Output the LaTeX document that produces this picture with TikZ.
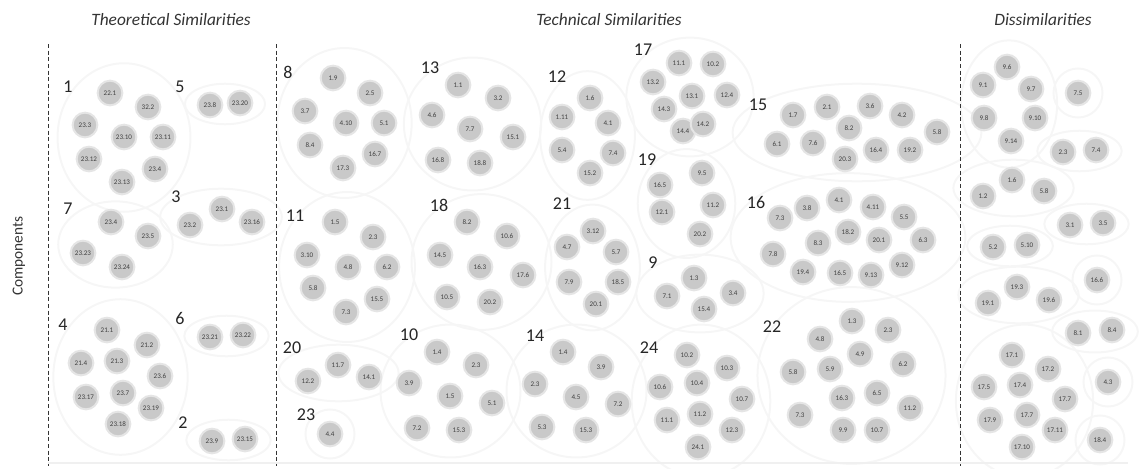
\documentclass[tikz,border=0pt]{standalone}
\usepackage{fontspec}
\setmainfont{Carlito}
\usetikzlibrary{shapes.geometric,fit,backgrounds}

\begin{document}
\begin{tikzpicture}[
    x=0.75pt, y=-0.75pt,
    comp/.style={circle, fill=black!21, draw=black!10, line width=1.5pt, minimum size=18.5pt, inner sep=0pt, font=\fontsize{5.3}{6}\selectfont, text=black!75},
    num/.style={font=\fontsize{13.5}{15}\selectfont, text=black!85},
    head/.style={font=\fontsize{13}{15}\selectfont\itshape, text=black!80},
    halo/.style={ellipse, draw=black!3.5, line width=1.5pt, inner sep=-4pt},
    solo/.style={halo, inner sep=3pt},
    sep/.style={dash pattern=on 3pt off 2pt, line width=0.6pt, black!80}
]
\useasboundingbox (0,0) rectangle (1139,468);

% headers and axis label
\node[head] (hT) at (171,20) {Theoretical Similarities};
\node[head] (hK) at (609,20) {Technical Similarities};
\node[head] (hD) at (1043,20) {Dissimilarities};
\node[font=\fontsize{11.5}{13}\selectfont, text=black!80, rotate=90] (ax) at (19,256) {Components};

% separators
\coordinate (s1t) at (48,44);  \coordinate (s1b) at (48,466);
\coordinate (s2t) at (276,44); \coordinate (s2b) at (276,466);
\coordinate (s3t) at (960,44); \coordinate (s3b) at (960,466);
\draw[sep] (s1t) -- (s1b);
\draw[sep] (s2t) -- (s2b);
\draw[sep] (s3t) -- (s3b);
\coordinate (fl) at (48,463); \coordinate (fr) at (1128,463);
\draw[black!6, line width=1.5pt] (fl) -- (fr);

% ---- theoretical similarities ----
\node[num] (n1) at (68,87) {1};
\node[comp] (c1-1) at (110,93) {22.1};
\node[comp] (c1-2) at (148,107) {32.2};
\node[comp] (c1-3) at (85,125) {23.3};
\node[comp] (c1-4) at (124,137) {23.10};
\node[comp] (c1-5) at (163,137) {23.11};
\node[comp] (c1-6) at (89,159) {23.12};
\node[comp] (c1-7) at (155,169) {23.4};
\node[comp] (c1-8) at (122,182) {23.13};

\node[num] (n5) at (180,87) {5};
\node[comp] (c5-1) at (210,105) {23.8};
\node[comp] (c5-2) at (240,103) {23.20};

\node[num] (n3) at (176,197) {3};
\node[comp] (c3-1) at (222,209) {23.1};
\node[comp] (c3-2) at (190,225) {23.2};
\node[comp] (c3-3) at (252,222) {23.16};

\node[num] (n7) at (68,209) {7};
\node[comp] (c7-1) at (111,222) {23.4};
\node[comp] (c7-2) at (148,236) {23.5};
\node[comp] (c7-3) at (83,253) {23.23};
\node[comp] (c7-4) at (122,267) {23.24};

\node[num] (n4) at (63,325) {4};
\node[comp] (c4-1) at (107,330) {21.1};
\node[comp] (c4-2) at (147,345) {21.2};
\node[comp] (c4-3) at (81,363) {21.4};
\node[comp] (c4-4) at (117,361) {21.3};
\node[comp] (c4-5) at (160,376) {23.6};
\node[comp] (c4-6) at (86,397) {23.17};
\node[comp] (c4-7) at (123,393) {23.7};
\node[comp] (c4-8) at (151,408) {23.19};
\node[comp] (c4-9) at (118,424) {23.18};

\node[num] (n6) at (180,318) {6};
\node[comp] (c6-1) at (210,337) {23.21};
\node[comp] (c6-2) at (243,335) {23.22};

\node[num] (n2) at (183,423) {2};
\node[comp] (c2-1) at (212,441) {23.9};
\node[comp] (c2-2) at (245,439) {23.15};

% ---- technical similarities ----
\node[num] (n8) at (288,72) {8};
\node[comp] (c8-1) at (333,78) {1.9};
\node[comp] (c8-2) at (370,93) {2.5};
\node[comp] (c8-3) at (305,111) {3.7};
\node[comp] (c8-4) at (346,123) {4.10};
\node[comp] (c8-5) at (384,123) {5.1};
\node[comp] (c8-6) at (310,145) {8.4};
\node[comp] (c8-7) at (375,154) {16.7};
\node[comp] (c8-8) at (343,168) {17.3};

\node[num] (n13) at (430,68) {13};
\node[comp] (c13-1) at (458,85) {1.1};
\node[comp] (c13-2) at (498,98) {3.2};
\node[comp] (c13-3) at (432,115) {4.6};
\node[comp] (c13-4) at (470,129) {7.7};
\node[comp] (c13-5) at (513,137) {15.1};
\node[comp] (c13-6) at (438,160) {16.8};
\node[comp] (c13-7) at (480,163) {18.8};

\node[num] (n11) at (295,216) {11};
\node[comp] (c11-1) at (335,222) {1.5};
\node[comp] (c11-2) at (373,237) {2.3};
\node[comp] (c11-3) at (307,255) {3.10};
\node[comp] (c11-4) at (348,267) {4.8};
\node[comp] (c11-5) at (387,267) {6.2};
\node[comp] (c11-6) at (313,288) {5.8};
\node[comp] (c11-7) at (377,299) {15.5};
\node[comp] (c11-8) at (346,312) {7.3};

\node[num] (n18) at (439,205) {18};
\node[comp] (c18-1) at (467,222) {8.2};
\node[comp] (c18-2) at (507,236) {10.6};
\node[comp] (c18-3) at (440,255) {14.5};
\node[comp] (c18-4) at (480,267) {16.3};
\node[comp] (c18-5) at (523,275) {17.6};
\node[comp] (c18-6) at (447,297) {10.5};
\node[comp] (c18-7) at (490,302) {20.2};

\node[num] (n10) at (409,335) {10};
\node[comp] (c10-1) at (437,352) {1.4};
\node[comp] (c10-2) at (476,365) {2.3};
\node[comp] (c10-3) at (409,383) {3.9};
\node[comp] (c10-4) at (450,396) {1.5};
\node[comp] (c10-5) at (492,403) {5.1};
\node[comp] (c10-6) at (417,428) {7.2};
\node[comp] (c10-7) at (459,430) {15.3};

\node[num] (n20) at (292,348) {20};
\node[comp] (c20-1) at (338,365) {11.7};
\node[comp] (c20-2) at (308,381) {12.2};
\node[comp] (c20-3) at (369,377) {14.1};

\node[num] (n23) at (306,415) {23};
\node[comp] (c23-1) at (330,434) {4.4};

\node[num] (n17) at (643,50) {17};
\node[comp] (c17-1) at (679,63) {11.1};
\node[comp] (c17-2) at (713,64) {10.2};
\node[comp] (c17-3) at (653,82) {13.2};
\node[comp] (c17-4) at (692,96) {13.1};
\node[comp] (c17-5) at (727,95) {12.4};
\node[comp] (c17-6) at (664,109) {14.3};
\node[comp] (c17-7) at (683,131) {14.4};
\node[comp] (c17-8) at (703,124) {14.2};

\node[num] (n12) at (557,77) {12};
\node[comp] (c12-1) at (590,98) {1.6};
\node[comp] (c12-2) at (562,117) {1.11};
\node[comp] (c12-3) at (608,123) {4.1};
\node[comp] (c12-4) at (562,150) {5.4};
\node[comp] (c12-5) at (613,153) {7.4};
\node[comp] (c12-6) at (590,173) {15.2};

\node[num] (n19) at (647,160) {19};
\node[comp] (c19-1) at (660,185) {16.5};
\node[comp] (c19-2) at (702,173) {9.5};
\node[comp] (c19-3) at (713,205) {11.2};
\node[comp] (c19-4) at (662,212) {12.1};
\node[comp] (c19-5) at (700,234) {20.2};

\node[num] (n21) at (562,204) {21};
\node[comp] (c21-1) at (593,231) {3.12};
\node[comp] (c21-2) at (567,247) {4.7};
\node[comp] (c21-3) at (616,252) {5.7};
\node[comp] (c21-4) at (569,282) {7.9};
\node[comp] (c21-5) at (618,282) {18.5};
\node[comp] (c21-6) at (596,304) {20.1};

\node[num] (n9) at (653,263) {9};
\node[comp] (c9-1) at (694,278) {1.3};
\node[comp] (c9-2) at (733,293) {3.4};
\node[comp] (c9-3) at (667,296) {7.1};
\node[comp] (c9-4) at (704,309) {15.4};

\node[num] (n14) at (535,336) {14};
\node[comp] (c14-1) at (563,352) {1.4};
\node[comp] (c14-2) at (601,367) {3.9};
\node[comp] (c14-3) at (535,384) {2.3};
\node[comp] (c14-4) at (576,397) {4.5};
\node[comp] (c14-5) at (618,404) {7.2};
\node[comp] (c14-6) at (542,427) {5.3};
\node[comp] (c14-7) at (586,430) {15.3};

\node[num] (n24) at (649,348) {24};
\node[comp] (c24-1) at (687,355) {10.2};
\node[comp] (c24-2) at (727,368) {10.3};
\node[comp] (c24-3) at (660,387) {10.6};
\node[comp] (c24-4) at (697,383) {10.4};
\node[comp] (c24-5) at (742,399) {10.7};
\node[comp] (c24-6) at (667,420) {11.1};
\node[comp] (c24-7) at (700,414) {11.2};
\node[comp] (c24-8) at (732,430) {12.3};
\node[comp] (c24-9) at (698,447) {24.1};

\node[num] (n15) at (758,105) {15};
\node[comp] (c15-1) at (793,115) {1.7};
\node[comp] (c15-2) at (827,107) {2.1};
\node[comp] (c15-3) at (870,106) {3.6};
\node[comp] (c15-4) at (902,115) {4.2};
\node[comp] (c15-5) at (849,128) {8.2};
\node[comp] (c15-6) at (777,144) {6.1};
\node[comp] (c15-7) at (813,143) {7.6};
\node[comp] (c15-8) at (876,150) {16.4};
\node[comp] (c15-9) at (910,150) {19.2};
\node[comp] (c15-10) at (845,159) {20.3};
\node[comp] (c15-11) at (937,132) {5.8};

\node[num] (n16) at (756,202) {16};
\node[comp] (c16-1) at (780,218) {7.3};
\node[comp] (c16-2) at (807,208) {3.8};
\node[comp] (c16-3) at (839,200) {4.1};
\node[comp] (c16-4) at (873,207) {4.11};
\node[comp] (c16-5) at (904,217) {5.5};
\node[comp] (c16-6) at (848,232) {18.2};
\node[comp] (c16-7) at (818,243) {8.3};
\node[comp] (c16-8) at (879,240) {20.1};
\node[comp] (c16-9) at (923,240) {6.3};
\node[comp] (c16-10) at (773,254) {7.8};
\node[comp] (c16-11) at (803,272) {19.4};
\node[comp] (c16-12) at (840,273) {16.5};
\node[comp] (c16-13) at (871,275) {9.13};
\node[comp] (c16-14) at (902,265) {9.12};

\node[num] (n22) at (772,327) {22};
\node[comp] (c22-1) at (852,321) {1.3};
\node[comp] (c22-2) at (888,330) {2.3};
\node[comp] (c22-3) at (820,339) {4.8};
\node[comp] (c22-4) at (860,354) {4.9};
\node[comp] (c22-5) at (793,372) {5.8};
\node[comp] (c22-6) at (830,369) {5.9};
\node[comp] (c22-7) at (903,364) {6.2};
\node[comp] (c22-8) at (842,398) {16.3};
\node[comp] (c22-9) at (877,393) {6.5};
\node[comp] (c22-10) at (910,408) {11.2};
\node[comp] (c22-11) at (800,415) {7.3};
\node[comp] (c22-12) at (843,430) {9.9};
\node[comp] (c22-13) at (877,430) {10.7};

% ---- dissimilarities ----
\node[comp] (d1-1) at (1007,67) {9.6};
\node[comp] (d1-2) at (983,85) {9.1};
\node[comp] (d1-3) at (1031,89) {9.7};
\node[comp] (d1-4) at (984,118) {9.8};
\node[comp] (d1-5) at (1035,118) {9.10};
\node[comp] (d1-6) at (1011,141) {9.14};

\node[comp] (d2-1) at (1078,93) {7.5};

\node[comp] (d3-1) at (1063,152) {2.3};
\node[comp] (d3-2) at (1096,150) {7.4};

\node[comp] (d4-1) at (1012,180) {1.6};
\node[comp] (d4-2) at (983,196) {1.2};
\node[comp] (d4-3) at (1044,191) {5.8};

\node[comp] (d5-1) at (1070,225) {3.1};
\node[comp] (d5-2) at (1103,223) {3.5};

\node[comp] (d6-1) at (993,247) {5.2};
\node[comp] (d6-2) at (1027,245) {5.10};

\node[comp] (d7-1) at (1097,280) {16.6};

\node[comp] (d8-1) at (1017,287) {19.3};
\node[comp] (d8-2) at (988,303) {19.1};
\node[comp] (d8-3) at (1049,300) {19.6};

\node[comp] (d9-1) at (1078,333) {8.1};
\node[comp] (d9-2) at (1112,330) {8.4};

\node[comp] (d10-1) at (1012,355) {17.1};
\node[comp] (d10-2) at (1048,369) {17.2};
\node[comp] (d10-3) at (984,387) {17.5};
\node[comp] (d10-4) at (1020,385) {17.4};
\node[comp] (d10-5) at (1065,399) {17.7};
\node[comp] (d10-6) at (990,420) {17.9};
\node[comp] (d10-7) at (1027,415) {17.7};
\node[comp] (d10-8) at (1055,430) {17.11};
\node[comp] (d10-9) at (1022,447) {17.10};

\node[comp] (d11-1) at (1108,382) {4.3};

\node[comp] (d12-1) at (1100,440) {18.4};

% faint group outlines
\begin{scope}[on background layer]
\node[halo, fit=(c1-1)(c1-2)(c1-3)(c1-5)(c1-6)(c1-7)(c1-8)] (g1) {};
\node[halo, inner sep=0pt, fit=(c5-1)(c5-2)] (g5) {};
\node[halo, inner sep=-1pt, fit=(c3-1)(c3-2)(c3-3)] (g3) {};
\node[halo, fit=(c7-1)(c7-2)(c7-3)(c7-4)] (g7) {};
\node[halo, fit=(c4-1)(c4-2)(c4-3)(c4-5)(c4-6)(c4-8)(c4-9)] (g4) {};
\node[halo, inner sep=0pt, fit=(c6-1)(c6-2)] (g6) {};
\node[halo, inner sep=0pt, fit=(c2-1)(c2-2)] (g2) {};
\node[halo, fit=(c8-1)(c8-2)(c8-3)(c8-5)(c8-6)(c8-7)(c8-8)] (g8) {};
\node[halo, fit=(c13-1)(c13-2)(c13-3)(c13-5)(c13-6)(c13-7)] (g13) {};
\node[halo, fit=(c11-1)(c11-2)(c11-3)(c11-5)(c11-6)(c11-7)(c11-8)] (g11) {};
\node[halo, fit=(c18-1)(c18-2)(c18-3)(c18-5)(c18-6)(c18-7)] (g18) {};
\node[halo, fit=(c10-1)(c10-2)(c10-3)(c10-5)(c10-6)(c10-7)] (g10) {};
\node[halo, inner sep=-1pt, fit=(c20-1)(c20-2)(c20-3)] (g20) {};
\node[solo, fit=(c23-1)] (g23) {};
\node[halo, fit=(c17-1)(c17-2)(c17-3)(c17-5)(c17-6)(c17-7)(c17-8)] (g17) {};
\node[halo, fit=(c12-1)(c12-2)(c12-3)(c12-4)(c12-5)(c12-6)] (g12) {};
\node[halo, fit=(c19-1)(c19-2)(c19-3)(c19-4)(c19-5)] (g19) {};
\node[halo, fit=(c21-1)(c21-2)(c21-3)(c21-4)(c21-5)(c21-6)] (g21) {};
\node[halo, inner sep=-1pt, fit=(c9-1)(c9-2)(c9-3)(c9-4)] (g9) {};
\node[halo, fit=(c14-1)(c14-2)(c14-3)(c14-5)(c14-6)(c14-7)] (g14) {};
\node[halo, fit=(c24-1)(c24-2)(c24-3)(c24-5)(c24-6)(c24-8)(c24-9)] (g24) {};
\node[halo, fit=(c15-2)(c15-3)(c15-6)(c15-10)(c15-11)] (g15) {};
\node[halo, fit=(c16-3)(c16-9)(c16-10)(c16-13)] (g16) {};
\node[halo, fit=(c22-1)(c22-5)(c22-7)(c22-10)(c22-12)] (g22) {};
\node[halo, fit=(d1-1)(d1-2)(d1-3)(d1-4)(d1-5)(d1-6)] (h1) {};
\node[solo, fit=(d2-1)] (h2) {};
\node[halo, inner sep=0pt, fit=(d3-1)(d3-2)] (h3) {};
\node[halo, inner sep=-1pt, fit=(d4-1)(d4-2)(d4-3)] (h4) {};
\node[halo, inner sep=0pt, fit=(d5-1)(d5-2)] (h5) {};
\node[halo, inner sep=0pt, fit=(d6-1)(d6-2)] (h6) {};
\node[solo, fit=(d7-1)] (h7) {};
\node[halo, inner sep=-1pt, fit=(d8-1)(d8-2)(d8-3)] (h8) {};
\node[halo, inner sep=0pt, fit=(d9-1)(d9-2)] (h9) {};
\node[halo, fit=(d10-1)(d10-3)(d10-5)(d10-6)(d10-9)] (h10) {};
\node[solo, fit=(d11-1)] (h11) {};
\node[solo, fit=(d12-1)] (h12) {};
\end{scope}
\end{tikzpicture}
\end{document}
